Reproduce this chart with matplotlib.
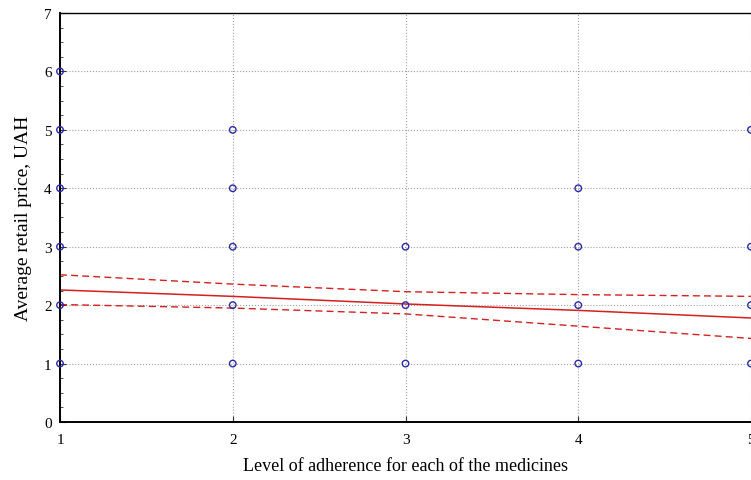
import matplotlib.pyplot as plt
from matplotlib.ticker import MultipleLocator

# Observed points (adherence level, price)
adherence = [1, 1, 1, 1, 1, 1,
             2, 2, 2, 2, 2,
             3, 3, 3,
             4, 4, 4, 4,
             5, 5, 5, 5]
price = [1, 2, 3, 4, 5, 6,
         1, 2, 3, 4, 5,
         1, 2, 3,
         1, 2, 3, 4,
         1, 2, 3, 5]

# Regression line and 95% band
fit_x = [1, 2, 3, 4, 5]
fit_y = [2.26, 2.15, 2.02, 1.91, 1.78]
band_upper = [2.52, 2.36, 2.23, 2.18, 2.15]
band_lower = [2.01, 1.95, 1.85, 1.64, 1.43]

plt.rcParams['font.family'] = ['Liberation Serif', 'DejaVu Serif']

fig = plt.figure(figsize=(7.51, 4.81), dpi=100)
ax = fig.add_axes([0.0799, 0.1206, 0.9201, 0.8503])

ax.grid(True, linestyle=':', color='#a0a0a0', linewidth=0.8)
ax.set_axisbelow(True)

ax.plot(fit_x, fit_y, color='#d42020', linewidth=1.1)
ax.plot(fit_x, band_upper, color='#d42020', linewidth=1.0, linestyle=(0, (5, 3)))
ax.plot(fit_x, band_lower, color='#d42020', linewidth=1.0, linestyle=(0, (5, 3)))

ax.scatter(adherence, price, s=22, facecolors='none', edgecolors='#2a2aa8',
           linewidths=1.0, zorder=3, clip_on=False)

ax.set_xlim(1, 5)
ax.set_ylim(0, 7)
ax.xaxis.set_major_locator(MultipleLocator(1))
ax.yaxis.set_major_locator(MultipleLocator(1))
ax.yaxis.set_minor_locator(MultipleLocator(0.25))

ax.tick_params(axis='both', which='major', direction='in', labelsize=11,
               length=4, color='#303030')
ax.tick_params(axis='y', which='minor', direction='in', length=2, color='#303030')
ax.tick_params(axis='x', pad=8)
ax.tick_params(axis='y', pad=6)

for side in ['left', 'bottom']:
    ax.spines[side].set_linewidth(1.4)
ax.spines['top'].set_linewidth(1.0)
ax.spines['right'].set_visible(False)

ax.set_xlabel('Level of adherence for each of the medicines', fontsize=13, labelpad=8)
ax.set_ylabel('Average retail price, UAH', fontsize=14, labelpad=9)

fig.savefig('out.png', dpi=100)
